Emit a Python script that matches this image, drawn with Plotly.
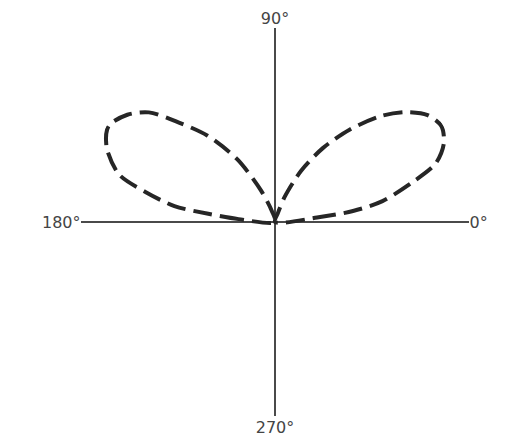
import plotly.graph_objects as go

# angles (degrees) and normalised radius
theta_right = [4, 6, 8, 11, 16, 20, 25, 30, 35, 40, 45, 51, 57, 63, 69, 72, 75]
r_right = [0, 0.22, 0.41, 0.57, 0.74, 0.89, 0.97, 1.0, 0.97, 0.89, 0.78, 0.62, 0.46, 0.30, 0.14, 0.05, 0]

theta_left = [176, 175.5, 173, 171, 167, 163, 156, 150, 144, 139, 134, 128, 121, 114, 106, 100]
r_left = [0, 0.19, 0.35, 0.53, 0.69, 0.85, 0.96, 1.0, 0.95, 0.87, 0.72, 0.57, 0.38, 0.18, 0.06, 0]

tick_vals = [0, 90, 180, 270]
tick_text = ["0°", "90°", "180°", "270°"]

line_style = dict(color="#262626", width=4, dash="19px,8px", shape="spline", smoothing=0.8)

fig = go.Figure()
fig.add_trace(go.Scatterpolar(r=r_right, theta=theta_right, mode="lines", line=line_style))
fig.add_trace(go.Scatterpolar(r=r_left, theta=theta_left, mode="lines", line=line_style))

# page body has an 8px margin, so the centre is shifted back by that
W, H = 507, 438
cx, cy, R = 267, 214, 194

fig.update_layout(
    width=W, height=H,
    margin=dict(l=0, r=0, t=0, b=0),
    paper_bgcolor="white",
    showlegend=False,
    polar=dict(
        domain=dict(x=[(cx - R) / W, (cx + R) / W],
                    y=[(H - cy - R) / H, (H - cy + R) / H]),
        bgcolor="white",
        radialaxis=dict(visible=False, range=[0, 1.01]),
        angularaxis=dict(
            direction="counterclockwise", rotation=0,
            tickmode="array", tickvals=tick_vals, ticktext=tick_text,
            ticks="", showline=False,
            showgrid=True, gridcolor="#4a4a4a", gridwidth=1.5,
            tickfont=dict(family="DejaVu Sans", size=16, color="#444444"),
        ),
    ),
)

fig.write_html("out.html")
